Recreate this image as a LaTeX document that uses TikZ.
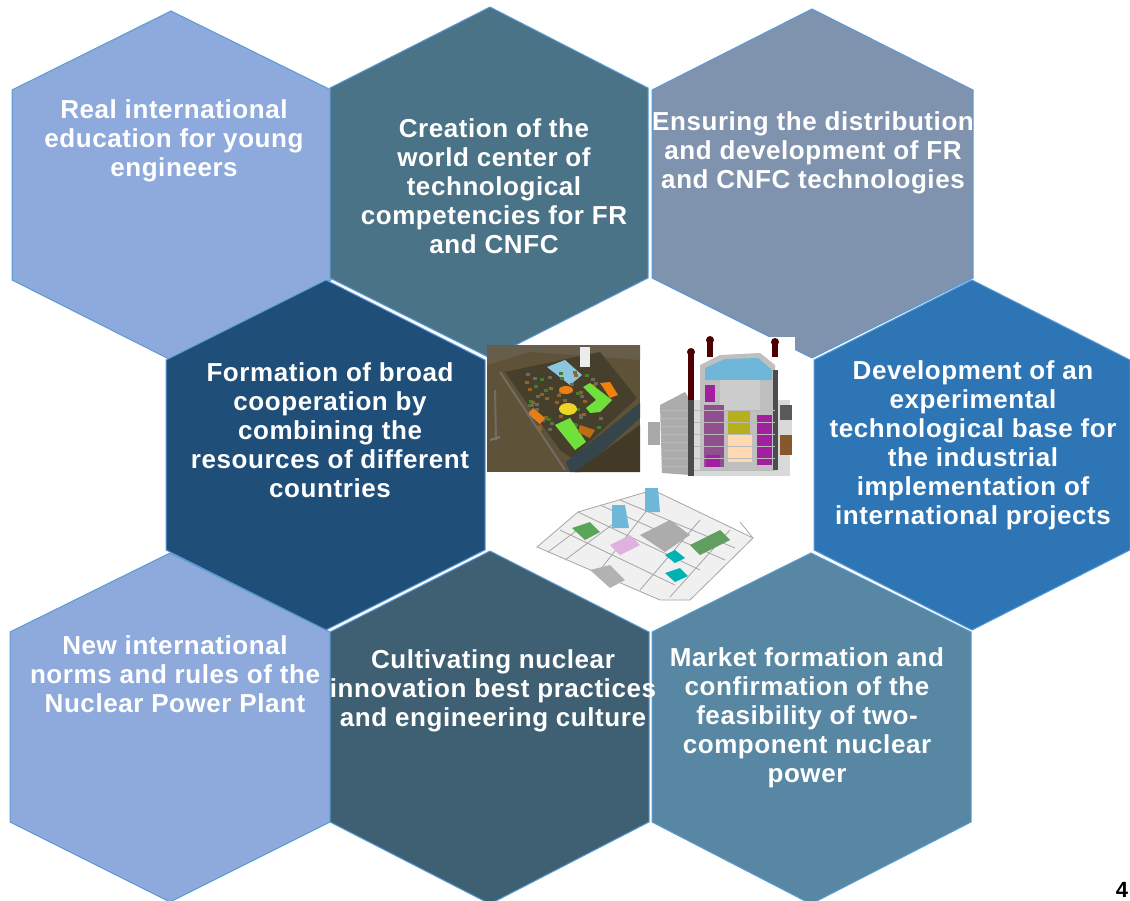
\documentclass[tikz,border=0pt]{standalone}
\usepackage{fontspec}
\setmainfont{Liberation Sans}[LetterSpace=2.2]
\definecolor{hA}{HTML}{8EA9DB}
\definecolor{hB}{HTML}{4A7388}
\definecolor{hC}{HTML}{8093AE}
\definecolor{hD}{HTML}{1F4E79}
\definecolor{hE}{HTML}{2E75B6}
\definecolor{hF}{HTML}{3F6073}
\definecolor{hG}{HTML}{5787A3}
\definecolor{edgeblue}{HTML}{5B9BD5}
\definecolor{soil}{HTML}{5E5238}
\definecolor{soild}{HTML}{453F2C}
\definecolor{lime}{HTML}{6FE03C}
\definecolor{wallg}{HTML}{A9A9A9}
\definecolor{purp}{HTML}{A020A0}
\definecolor{sky}{HTML}{6FB7D8}
\tikzset{
  hexa/.style={draw=edgeblue,line width=1pt},
  hextext/.style={text=white,align=center,font=\bfseries\fontsize{26}{29}\selectfont,inner sep=0pt},
  pl/.style={line width=.8pt,draw=gray!70},
  thin line/.style={line width=.5pt,draw=gray!55}
}
\newcommand{\hexagon}[8]{%
  \fill[#1] (#2,#6) -- (#4,#5) -- (#3,#6) -- (#3,#7) -- (#4,#8) -- (#2,#7) -- cycle;
  \draw[hexa] (#2,#6) -- (#4,#5) -- (#3,#6) -- (#3,#7) -- (#4,#8) -- (#2,#7) -- cycle;}
\begin{document}
\begin{tikzpicture}[x=1pt,y=-1pt]
\useasboundingbox (0,0) rectangle (1130,900);
\begin{scope}
\clip (0,0) rectangle (1130,900);
\hexagon{hA}{12}{331}{171}{11}{90}{280}{360}
\hexagon{hB}{330}{648}{490}{7}{88}{278}{358}
\hexagon{hC}{652}{973}{812}{9}{90}{278}{358}
\hexagon{hA}{10}{330}{170}{553}{632}{822}{902}
\hexagon{hF}{330}{649}{490}{551}{632}{822}{904}
\hexagon{hG}{652}{971}{811}{553}{632}{822}{904}
\hexagon{hD}{166}{485}{326}{280}{360}{550}{630}
\hexagon{hE}{814}{1130}{972}{280}{360}{550}{630}
\end{scope}
% site photograph
\begin{scope}
\clip (487,345) rectangle (640,472);
\fill[soil] (487,345) rectangle (640,472);
\fill[soil!75!gray] (487,345) -- (640,345) -- (640,360) -- (530,352) -- (487,365) -- cycle;
\fill[soild] (505,372) -- (600,352) -- (637,398) -- (572,458) -- (560,450) -- cycle;
\fill[soild!60!hD] (566,462) -- (640,403) -- (640,418) -- (580,472) -- (570,472) -- cycle;
\fill[soil!70!black] (575,472) -- (640,425) -- (640,472) -- cycle;
\fill[white!85!gray] (580,347) rectangle (590,367);
\fill[sky!80!white] (547,367) -- (565,360) -- (582,375) -- (570,385) -- cycle;
\pgfmathsetseed{7}
\foreach \i in {1,...,60}{
  \pgfmathsetmacro{\px}{525+rnd*75}
  \pgfmathsetmacro{\py}{370+rnd*60}
  \pgfmathsetmacro{\pc}{int(rnd*3)}
  \ifnum\pc=0 \fill[gray!50!soil] (\px,\py) rectangle +(4,3);\fi
  \ifnum\pc=1 \fill[orange!35!soil] (\px,\py) rectangle +(4,3);\fi
  \ifnum\pc=2 \fill[green!25!soil] (\px,\py) rectangle +(4,3);\fi
}
\fill[lime] (583,387) -- (590,383) -- (612,400) -- (600,412) -- (590,413) -- (586,408) -- (596,400) -- cycle;
\fill[lime] (555,425) -- (570,418) -- (586,442) -- (575,450) -- cycle;
\fill[orange!80!brown] (600,383) -- (610,382) -- (618,395) -- (610,398) -- cycle;
\fill[orange!70!brown] (566,390) ellipse[x radius=7,y radius=4];
\fill[yellow!70!brown] (568,409) ellipse[x radius=9,y radius=6];
\fill[orange!60!brown] (533,408) -- (545,418) -- (540,424) -- (528,414) -- cycle;
\fill[orange!60!soil] (580,425) -- (595,430) -- (590,438) -- (578,432) -- cycle;
\draw[gray!60!soil,line width=2pt] (495,390) -- (496,440);
\draw[gray!60!soil,line width=2pt] (500,372) -- (565,470);
\draw[gray!80!soil,line width=2pt] (490,440) -- (500,437);
\end{scope}
% reactor cut-away
\fill[white] (648,337) rectangle (795,477);
\fill[gray!65] (660,405) -- (685,392) -- (690,400) -- (690,475) -- (662,473) -- cycle;
\foreach \yy in {410,418,...,470}{\draw[thin line] (661,\yy) -- (690,\yy);}
\fill[wallg] (648,422) rectangle (660,445);
\fill[gray!30] (690,400) rectangle (790,476);
\fill[gray!50] (700,365) -- (720,355) -- (760,353) -- (775,365) -- (775,470) -- (700,470) -- cycle;
\fill[sky] (705,368) -- (725,359) -- (758,358) -- (772,370) -- (772,380) -- (705,380) -- cycle;
\fill[gray!40] (720,380) rectangle (760,410);
\fill[gray!60!black] (688,400) rectangle (694,476);
\fill[gray!60!black] (773,370) rectangle (778,470);
\fill[purp] (705,385) rectangle (715,402);
\fill[purp!50!gray] (704,405) rectangle (724,467);
\fill[purp] (706,455) rectangle (720,467);
\fill[lime!50!orange] (728,410) rectangle (750,435);
\fill[orange!30!white] (728,435) rectangle (752,462);
\fill[purp] (757,415) rectangle (772,465);
\fill[black!65] (780,405) rectangle (792,420);
\fill[brown!70!black] (780,435) rectangle (792,455);
\fill[gray!30] (780,420) rectangle (792,435);
\foreach \yy in {410,422,...,470}{\draw[thin line] (694,\yy) -- (775,\yy);}
\foreach \tx/\ty/\tb in {691/352/400,710/340/357,775/342/357}{
  \fill[black!70!red] (\tx-3,\ty) rectangle (\tx+3,\tb);
  \fill[black!70!red] (\tx,\ty) circle[radius=4];}
% plant layout
\fill[gray!12] (537,547) -- (578,512) -- (653,490) -- (753,538) -- (690,600) -- (660,600) -- cycle;
\draw[pl] (537,547) -- (660,600) -- (690,600) -- (753,538) -- (653,490) -- (578,512) -- cycle;
\draw[pl] (560,530) -- (675,585);
\draw[pl] (578,512) -- (700,570);
\draw[pl] (600,505) -- (725,560);
\draw[pl] (620,500) -- (735,548);
\draw[pl] (640,590) -- (700,520);
\draw[pl] (600,570) -- (655,500);
\draw[pl] (565,560) -- (625,515);
\draw[pl] (548,552) -- (580,528);
\draw[pl] (670,597) -- (730,530);
\draw[pl] (753,538) -- (740,522);
\fill[gray!60] (590,570) -- (610,565) -- (625,580) -- (610,588) -- cycle;
\fill[gray!70!green] (572,528) -- (590,522) -- (600,532) -- (585,540) -- cycle;
\fill[gray!65] (640,535) -- (670,520) -- (690,535) -- (665,552) -- cycle;
\fill[teal!60!cyan] (665,555) -- (675,550) -- (685,558) -- (675,563) -- cycle;
\fill[teal!60!cyan] (665,573) -- (680,568) -- (688,576) -- (675,582) -- cycle;
\fill[purp!35] (610,545) -- (630,535) -- (640,545) -- (620,555) -- cycle;
\fill[gray!75!green] (690,545) -- (720,530) -- (730,540) -- (700,555) -- cycle;
\fill[sky] (612,505) -- (625,505) -- (629,528) -- (612,528) -- cycle;
\fill[sky] (645,488) -- (658,488) -- (660,512) -- (645,512) -- cycle;
% texts
\node[hextext] (ta) at (174,141) {Real international\\education for young\\engineers};
\node[hextext] (tb) at (494,186) {Creation of the\\world center of\\technological\\competencies for FR\\and CNFC};
\node[hextext] (tc) at (813,153) {Ensuring the distribution\\and development of FR\\and CNFC technologies};
\node[hextext] (td) at (330,430.5) {Formation of broad\\cooperation by\\combining the\\resources of different\\countries};
\node[hextext] (te) at (973,445) {Development of an\\experimental\\technological base for\\the industrial\\implementation of\\international projects};
\node[hextext] (tf) at (175,674) {New international\\norms and rules of the\\Nuclear Power Plant};
\node[hextext] (tg) at (493,691) {Cultivating nuclear\\innovation best practices\\and engineering culture};
\node[hextext] (th) at (807,718) {Market formation and\\confirmation of the\\feasibility of two-\\component nuclear\\power};
\node[text=black,font=\bfseries\fontsize{22}{24}\selectfont,inner sep=0pt] (pg) at (1122,890) {4};
\end{tikzpicture}
\end{document}
